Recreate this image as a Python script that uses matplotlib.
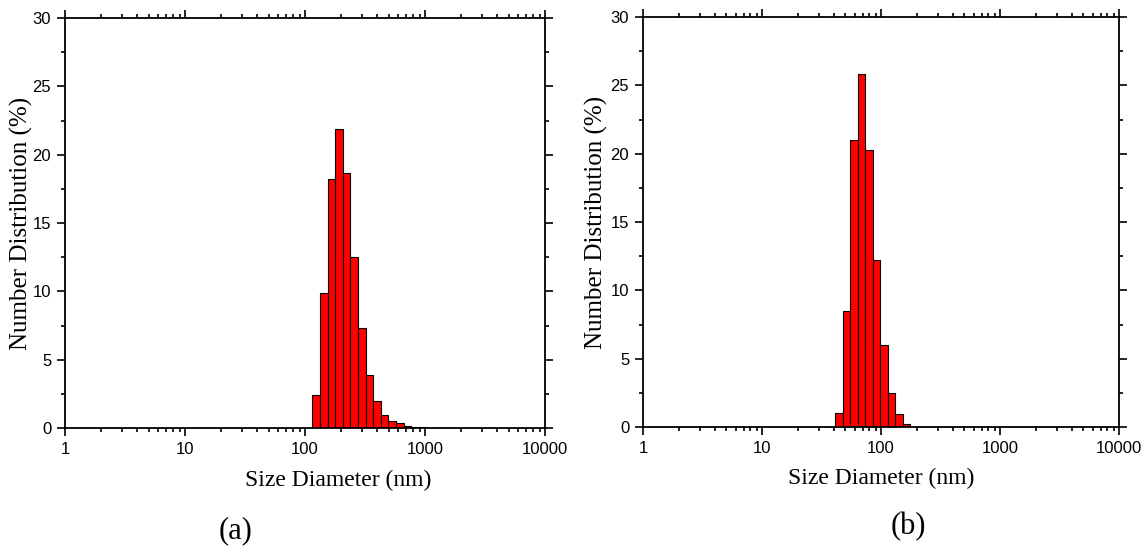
import numpy as np
import matplotlib
matplotlib.use("Agg")
import matplotlib.pyplot as plt
from matplotlib.ticker import FixedLocator, LogLocator, NullFormatter, MultipleLocator

# du lieu doc tu hinh (duong kinh tam bin, nm) va phan bo so luong (%)
size_a = [123.9, 143.3, 165.9, 191.9, 222.0, 256.9, 297.2, 343.9, 398.0,
          460.4, 532.7, 616.4, 713.1, 825.1, 954.6, 1104, 1278]
dist_a = [2.45, 9.87, 18.24, 21.88, 18.68, 12.48, 7.33, 3.91, 2.0,
          0.93, 0.54, 0.34, 0.12, 0.10, 0.04, 0.03, 0.03]

size_b = [44.2, 51.1, 59.2, 68.4, 79.2, 91.6, 106.1, 122.7, 142.0, 164.4]
dist_b = [1.0, 8.5, 21.0, 25.8, 20.3, 12.2, 6.0, 2.5, 0.95, 0.2]

x_ticks = [1, 10, 100, 1000, 10000]
x_labels = ["1", "10", "100", "1000", "10000"]
panel_tags = ["(a)", "(b)"]

LOG_W = 0.0633  # do rong bin theo thang log

sans = "Liberation Sans"
serif = "Liberation Serif"

fig = plt.figure(figsize=(11.45, 5.49), dpi=100)
ax_a = fig.add_axes([0.0568, 0.2204, 0.4192, 0.7468])
ax_b = fig.add_axes([0.5616, 0.2222, 0.4157, 0.7468])


def ve_panel(ax, sizes, vals):
    c = np.array(sizes)
    left = c / 10 ** (LOG_W / 2)
    width = c * 10 ** (LOG_W / 2) - left
    ax.bar(left, vals, width=width, align="edge", color="#ff0000",
           edgecolor="black", linewidth=0.8, zorder=2)
    ax.set_xscale("log")
    ax.set_xlim(1, 10000)
    ax.set_ylim(0, 30)
    ax.xaxis.set_major_locator(FixedLocator(x_ticks))
    ax.set_xticklabels(x_labels, fontfamily=sans, fontsize=12)
    ax.xaxis.set_minor_locator(LogLocator(base=10, subs=np.arange(2, 10)))
    ax.xaxis.set_minor_formatter(NullFormatter())
    ax.yaxis.set_major_locator(MultipleLocator(5))
    ax.yaxis.set_minor_locator(MultipleLocator(2.5))
    for lb in ax.get_yticklabels():
        lb.set_fontfamily(sans)
        lb.set_fontsize(12)
    for sp in ax.spines.values():
        sp.set_linewidth(1.3)
    ax.tick_params(which="both", direction="out", top=True, right=True,
                   labeltop=False, labelright=False, width=1.2)
    ax.tick_params(which="major", length=6, pad=4)
    ax.tick_params(which="minor", length=3)


ve_panel(ax_a, size_a, dist_a)
ve_panel(ax_b, size_b, dist_b)

# nhan truc
fig.text(338 / 1145, 1 - 480 / 549, "Size Diameter (nm)", fontfamily=serif,
         fontsize=17, ha="center", va="center")
fig.text(881 / 1145, 1 - 478 / 549, "Size Diameter (nm)", fontfamily=serif,
         fontsize=17, ha="center", va="center")
fig.text(21 / 1145, 1 - 223 / 549, "Number Distribution (%)", fontfamily=serif,
         fontsize=18, rotation=90, ha="center", va="center")
fig.text(596 / 1145, 1 - 222 / 549, "Number Distribution (%)", fontfamily=serif,
         fontsize=18, rotation=90, ha="center", va="center")

fig.text(236 / 1145, 1 - 531 / 549, panel_tags[0], fontfamily=serif,
         fontsize=22, ha="center", va="center")
fig.text(908 / 1145, 1 - 527 / 549, panel_tags[1], fontfamily=serif,
         fontsize=22, ha="center", va="center")

fig.savefig("out.png", dpi=100)
